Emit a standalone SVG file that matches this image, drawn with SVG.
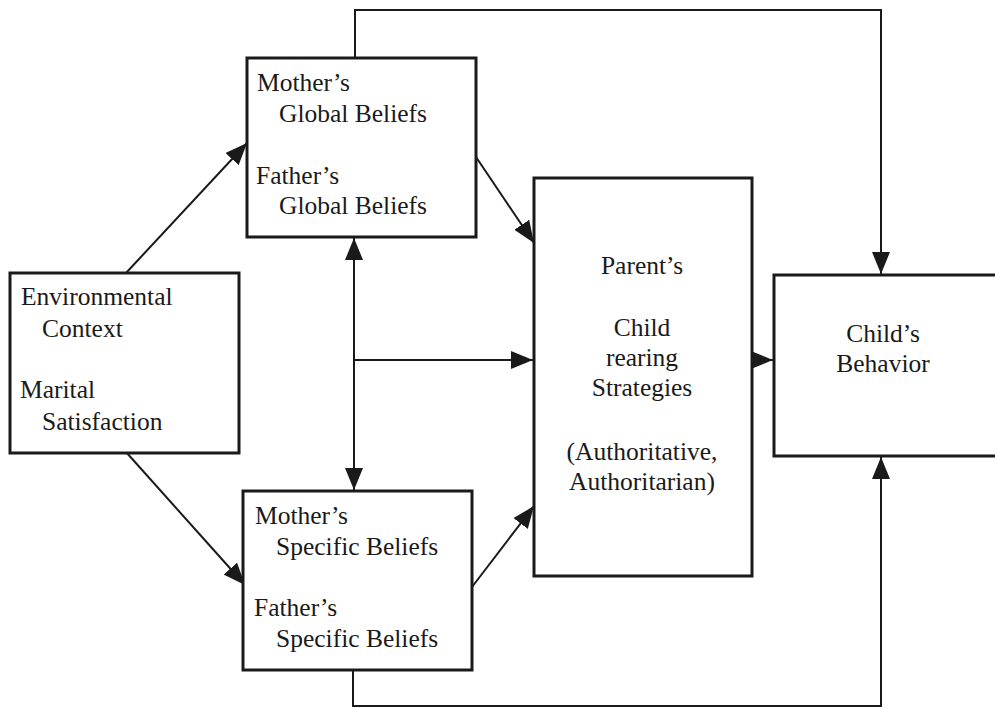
<svg xmlns="http://www.w3.org/2000/svg" width="995" height="709" viewBox="0 0 995 709">
  <style>
    .box { fill: #ffffff; stroke: #1a1a1a; stroke-width: 3; }
    .lbl { font-family: "Liberation Serif", "Times New Roman", serif; font-size: 25.5px; fill: #1a1a1a; }
    .mid { text-anchor: middle; }
    .con { fill: none; stroke: #1a1a1a; stroke-width: 2; }
  </style>
  <defs>
    <marker id="arr" markerUnits="userSpaceOnUse" viewBox="0 0 22 18" refX="22" refY="9" markerWidth="22" markerHeight="18" orient="auto-start-reverse">
      <path d="M0,0 L22,9 L0,18 z" fill="#1a1a1a"/>
    </marker>
  </defs>
  <rect x="0" y="0" width="995" height="709" fill="#ffffff"/>

  <g id="connectors">
    <line class="con" x1="126" y1="273" x2="247" y2="143" marker-end="url(#arr)"/>
    <line class="con" x1="126" y1="452" x2="245" y2="585" marker-end="url(#arr)"/>
    <line class="con" x1="476" y1="157" x2="534" y2="243" marker-end="url(#arr)"/>
    <line class="con" x1="472" y1="587" x2="534" y2="506" marker-end="url(#arr)"/>
    <line class="con" x1="354" y1="238" x2="354" y2="490" marker-start="url(#arr)" marker-end="url(#arr)"/>
    <line class="con" x1="354" y1="360" x2="533" y2="360" marker-end="url(#arr)"/>
    <line class="con" x1="752" y1="360" x2="773" y2="360" marker-end="url(#arr)"/>
    <polyline class="con" points="355,57 355,10 881,10 881,274" marker-end="url(#arr)"/>
    <polyline class="con" points="353,670 353,706 881,706 881,457" marker-end="url(#arr)"/>
  </g>

  <g id="env">
    <rect class="box" x="10" y="273" width="229" height="180"/>
    <text class="lbl" x="21" y="305">Environmental</text>
    <text class="lbl" x="42" y="337">Context</text>
    <text class="lbl" x="20" y="398">Marital</text>
    <text class="lbl" x="42" y="430">Satisfaction</text>
  </g>

  <g id="global">
    <rect class="box" x="247" y="58" width="229" height="179"/>
    <text class="lbl" x="257" y="91">Mother’s</text>
    <text class="lbl" x="279" y="122">Global Beliefs</text>
    <text class="lbl" x="256" y="184">Father’s</text>
    <text class="lbl" x="279" y="214">Global Beliefs</text>
  </g>

  <g id="specific">
    <rect class="box" x="243" y="491" width="229" height="179"/>
    <text class="lbl" x="255" y="524">Mother’s</text>
    <text class="lbl" x="276" y="555">Specific Beliefs</text>
    <text class="lbl" x="254" y="616">Father’s</text>
    <text class="lbl" x="276" y="647">Specific Beliefs</text>
  </g>

  <g id="parent">
    <rect class="box" x="534" y="178" width="218" height="398"/>
    <text class="lbl mid" x="642" y="274">Parent’s</text>
    <text class="lbl mid" x="642" y="336">Child</text>
    <text class="lbl mid" x="642" y="366">rearing</text>
    <text class="lbl mid" x="642" y="396">Strategies</text>
    <text class="lbl mid" x="642" y="460">(Authoritative,</text>
    <text class="lbl mid" x="642" y="490">Authoritarian)</text>
  </g>

  <g id="child">
    <rect class="box" x="774" y="275" width="240" height="181"/>
    <text class="lbl mid" x="883" y="342">Child’s</text>
    <text class="lbl mid" x="883" y="372">Behavior</text>
  </g>
</svg>
